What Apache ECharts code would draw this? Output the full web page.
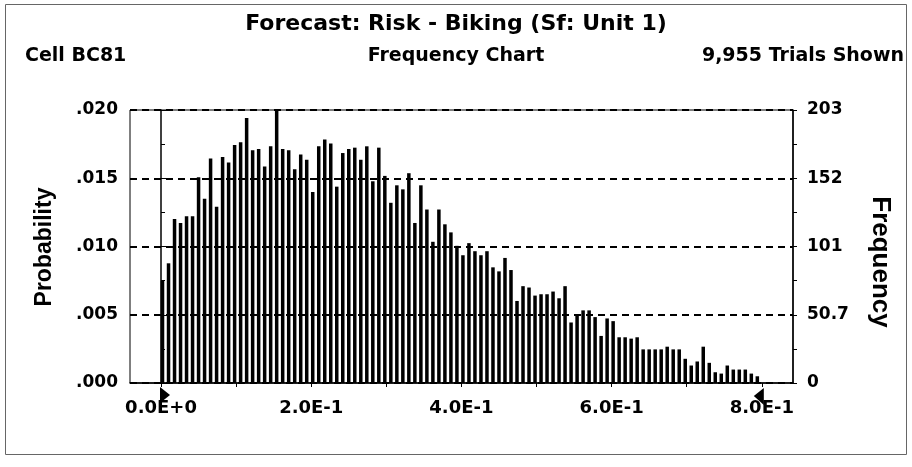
<!DOCTYPE html>
<html>
<head>
<meta charset="utf-8">
<script src="https://cdn.jsdelivr.net/npm/echarts@6.0.0/dist/echarts.min.js"></script>
<style>
  html, body { margin: 0; padding: 0; background: #fff; }
  #chart { width: 912px; height: 467px; }
</style>
</head>
<body>
<div id="chart"></div>
<script>
// frequency per bin (100 bins of width 0.008)
const freq = [
    76, 89, 122, 119, 124, 124, 153, 137, 167, 131,
    168, 164, 177, 179, 197, 173, 174, 161, 176, 203,
    174, 173, 159, 170, 166, 142, 176, 181, 178, 146,
    171, 174, 175, 166, 176, 150, 175, 154, 134, 147,
    144, 156, 119, 147, 129, 105, 129, 118, 112, 102,
    95, 104, 98, 95, 98, 86, 83, 93, 84, 61,
    72, 71, 65, 66, 66, 68, 63, 72, 45, 51,
    54, 54, 49, 35, 48, 46, 34, 34, 33, 34,
    25, 25, 25, 25, 27, 25, 25, 18, 13, 16,
    27, 15, 8, 7, 13, 10, 10, 10, 7, 5
];
const binWidth = 0.008;
const freqMax = 203;

const probLabels = ['.000', '.005', '.010', '.015', '.020'];
const freqLabels = ['0', '50.7', '101', '152', '203'];
const xTickValues = [0, 0.1, 0.2, 0.3, 0.4, 0.5, 0.6, 0.7, 0.8];
const xLabelValues = [0, 0.2, 0.4, 0.6, 0.8];
const xLabels = ['0.0E+0', '2.0E-1', '4.0E-1', '6.0E-1', '8.0E-1'];

// bar sits in the left part of its bin
const barData = freq.map((f, i) => [i * binWidth + binWidth / 4, f]);

const FONT = 'DejaVu Sans';
const yStep = freqMax / 4;
const headStyle = { fontFamily: FONT, fontWeight: 'bold', fontSize: 19, color: '#000' };

const chart = echarts.init(document.getElementById('chart'));

const option = {
    backgroundColor: '#fff',
    animation: false,
    title: [
        { text: 'Forecast: Risk - Biking (Sf: Unit 1)', left: 'center', top: 8,
          textStyle: { fontFamily: FONT, fontWeight: 'bold', fontSize: 22, color: '#000' } },
        { text: 'Cell BC81', left: 20, top: 42, textStyle: headStyle },
        { text: 'Frequency Chart', left: 'center', top: 42, textStyle: headStyle },
        { text: '9,955 Trials Shown', right: 3, top: 42, textStyle: headStyle }
    ],
    grid: { left: 130, right: 119, top: 110, bottom: 84,
            show: true, borderColor: '#000', borderWidth: 1 },
    xAxis: {
        type: 'value',
        min: -0.0413,
        max: 0.8415,
        axisLine: { onZero: false, lineStyle: { color: '#000', width: 1.5 } },
        axisTick: { show: true, length: 4, customValues: xTickValues,
                    lineStyle: { color: '#000' } },
        axisLabel: {
            customValues: xLabelValues,
            margin: 16,
            fontFamily: FONT, fontWeight: 'bold', fontSize: 18, color: '#000',
            formatter: v => xLabels[Math.round(v / 0.2)]
        },
        splitLine: { show: false }
    },
    yAxis: [
        {
            type: 'value', min: 0, max: freqMax, interval: yStep,
            axisLine: { show: true, lineStyle: { color: '#000', width: 1.5 } },
            axisTick: { show: true, inside: true, length: 5, lineStyle: { color: '#000' } },
            minorTick: { show: true, splitNumber: 2, length: 4, lineStyle: { color: '#000' } },
            axisLabel: {
                margin: 12,
                fontFamily: FONT, fontWeight: 'bold', fontSize: 17, color: '#000',
                formatter: v => probLabels[Math.round(v / yStep)]
            },
            splitLine: { show: true, lineStyle: { color: '#000', width: 2, type: [7, 5] } }
        },
        {
            type: 'value', min: 0, max: freqMax, interval: yStep, position: 'right',
            axisLine: { show: true, lineStyle: { color: '#000', width: 1.5 } },
            axisTick: { show: true, length: 4, lineStyle: { color: '#000' } },
            minorTick: { show: true, splitNumber: 2, length: 4, lineStyle: { color: '#000' } },
            axisLabel: {
                margin: 14,
                fontFamily: FONT, fontWeight: 'bold', fontSize: 17, color: '#000',
                formatter: v => freqLabels[Math.round(v / yStep)]
            },
            splitLine: { show: false }
        }
    ],
    series: [{
        type: 'bar',
        data: barData,
        barWidth: 3.5,
        itemStyle: { color: '#000' },
        z: 3
    }]
};

chart.setOption(option);

// certainty range markers under the axis, axis names and outer frame
const x0 = chart.convertToPixel({ xAxisIndex: 0 }, 0);
const x1 = chart.convertToPixel({ xAxisIndex: 0 }, 0.8);
const yBase = chart.convertToPixel({ yAxisIndex: 0 }, 0);
chart.setOption({
    graphic: [
        { type: 'polygon', shape: { points: [[x0 - 1, yBase + 4], [x0 + 9, yBase + 12], [x0 - 1, yBase + 20]] },
          style: { fill: '#000' } },
        { type: 'polygon', shape: { points: [[x1 + 2, yBase + 5], [x1 - 8, yBase + 13], [x1 + 2, yBase + 22]] },
          style: { fill: '#000' } },
        { type: 'text', x: 45, y: 247, rotation: Math.PI / 2,
          style: { text: 'Probability', fontFamily: 'Liberation Sans', fontWeight: 'bold', fontSize: 23,
                   fill: '#000', align: 'center', verticalAlign: 'middle' } },
        { type: 'text', x: 880, y: 262, rotation: -Math.PI / 2,
          style: { text: 'Frequency', fontFamily: 'Liberation Sans', fontWeight: 'bold', fontSize: 26,
                   fill: '#000', align: 'center', verticalAlign: 'middle' } },
        { type: 'rect', shape: { x: 5.5, y: 4.5, width: 901, height: 450 },
          style: { fill: 'none', stroke: '#666', lineWidth: 1 } }
    ]
});

window.addEventListener('resize', function () {
    chart.resize();
});
</script>
</body>
</html>
